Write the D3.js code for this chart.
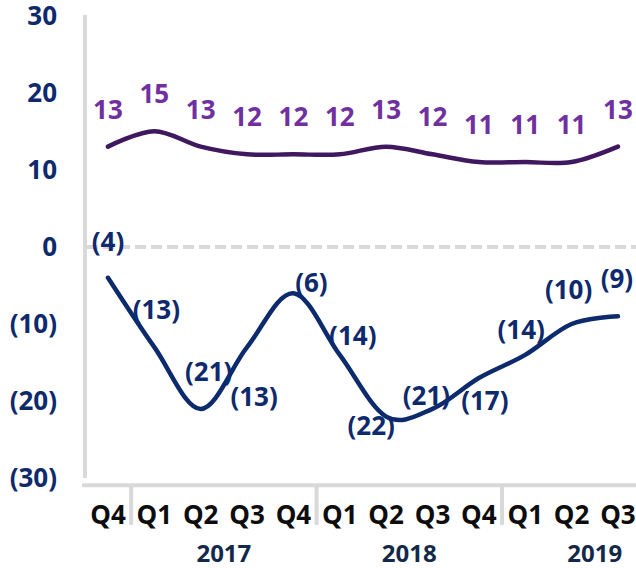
<!DOCTYPE html>
<html>
<head>
<meta charset="utf-8">
<script src="https://cdn.jsdelivr.net/npm/d3@7"></script>
<style>
  body { margin: 0; background: #fff; }
  svg text { font-family: "Open Sans", "Noto Sans", sans-serif; font-weight: 700; }
</style>
</head>
<body>
<div id="chart"></div>
<script>
// chart data
let quarters = ["Q4", "Q1", "Q2", "Q3", "Q4", "Q1", "Q2", "Q3", "Q4", "Q1", "Q2", "Q3"];
let years = [
    { label: "2017", start: 1, span: 4 },
    { label: "2018", start: 5, span: 4 },
    { label: "2019", start: 9, span: 4 }
];
let topSeries = [13, 15, 13, 12, 12, 12, 13, 12, 11, 11, 11, 13];
let bottomSeries = [-4, -13, -21, -13, -6, -14, -22, -21, -17, -14, -10, -9];
let yTicks = [30, 20, 10, 0, -10, -20, -30];

// label placement for the lower series (dx, dy from the point, in px)
let bottomLabelShift = [
    [0, -36], [2, -37], [8, -37], [7, 50], [18, -10], [13, -19],
    [-15, 9], [-6, -13], [6, 23], [-4, -25], [-3, -34], [-1, -37]
];

(function() {
    let width = 636,
        height = 568;

    let svg = d3.select("#chart")
        .append("svg")
        .attr("width", width)
        .attr("height", height);

    let x = d3.scaleBand()
        .domain(d3.range(quarters.length))
        .range([84.8, 84.8 + 46.36 * 12]);
    let cx = i => x(i) + x.bandwidth() / 2;

    let y = d3.scaleLinear()
        .domain([-30, 30])
        .range([478.3, 15.5]);

    let fmt = v => v < 0 ? `(${-v})` : `${v}`;

    // y tick labels
    svg.append("g")
        .selectAll("text")
        .data(yTicks)
        .enter()
        .append("text")
        .attr("x", 57)
        .attr("y", d => y(d))
        .attr("dy", "0.35em")
        .attr("text-anchor", "end")
        .attr("font-size", 26)
        .attr("fill", "#0e2a6c")
        .text(fmt);

    // vertical axis line
    svg.append("line")
        .attr("x1", 85).attr("x2", 85)
        .attr("y1", 15).attr("y2", 478)
        .attr("stroke", "#d9d9d9")
        .attr("stroke-width", 4);

    // zero line
    svg.append("line")
        .attr("x1", 87).attr("x2", width)
        .attr("y1", y(0)).attr("y2", y(0))
        .attr("stroke", "#d9d9d9")
        .attr("stroke-width", 4)
        .attr("stroke-dasharray", "11,5");

    // category axis line
    svg.append("line")
        .attr("x1", 82).attr("x2", width)
        .attr("y1", 485.3).attr("y2", 485.3)
        .attr("stroke", "#d9d9d9")
        .attr("stroke-width", 4);

    // year separators
    svg.append("g")
        .selectAll("line")
        .data(years)
        .enter()
        .append("line")
        .attr("x1", d => x(d.start)).attr("x2", d => x(d.start))
        .attr("y1", 487).attr("y2", 525)
        .attr("stroke", "#d9d9d9")
        .attr("stroke-width", 4);

    // quarter labels
    svg.append("g")
        .selectAll("text")
        .data(quarters)
        .enter()
        .append("text")
        .attr("x", (d, i) => cx(i))
        .attr("y", 524)
        .attr("text-anchor", "middle")
        .attr("font-size", 26)
        .attr("fill", "#0d0d0d")
        .text(d => d);

    // year labels
    svg.append("g")
        .selectAll("text")
        .data(years)
        .enter()
        .append("text")
        .attr("x", d => x(d.start) + x.bandwidth() * d.span / 2)
        .attr("y", 562)
        .attr("text-anchor", "middle")
        .attr("font-size", 24)
        .attr("fill", "#14294a")
        .text(d => d.label);

    let line = d3.line()
        .x((d, i) => cx(i))
        .y(d => y(d))
        .curve(d3.curveCardinal.tension(0));

    // upper series
    svg.append("path")
        .datum(topSeries)
        .attr("d", line)
        .attr("fill", "none")
        .attr("stroke", "#3f1860")
        .attr("stroke-width", 4.5)
        .attr("stroke-linecap", "round");

    svg.append("g")
        .selectAll("text")
        .data(topSeries)
        .enter()
        .append("text")
        .attr("x", (d, i) => cx(i))
        .attr("y", d => y(d) - 37)
        .attr("dy", "0.35em")
        .attr("text-anchor", "middle")
        .attr("font-size", 26)
        .attr("fill", "#7030a0")
        .text(fmt);

    // lower series
    svg.append("path")
        .datum(bottomSeries)
        .attr("d", line)
        .attr("fill", "none")
        .attr("stroke", "#0c2a6c")
        .attr("stroke-width", 4.5)
        .attr("stroke-linecap", "round");

    svg.append("g")
        .selectAll("text")
        .data(bottomSeries)
        .enter()
        .append("text")
        .attr("x", (d, i) => cx(i) + bottomLabelShift[i][0])
        .attr("y", (d, i) => y(d) + bottomLabelShift[i][1])
        .attr("dy", "0.35em")
        .attr("text-anchor", "middle")
        .attr("font-size", 26)
        .attr("fill", "#0e2a6c")
        .text(fmt);
})();
</script>
</body>
</html>
